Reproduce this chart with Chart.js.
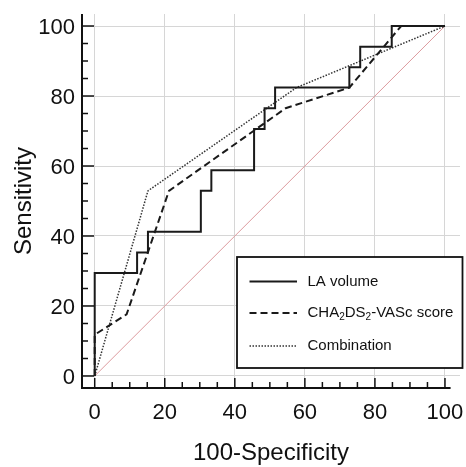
<!DOCTYPE html>
<html><head><meta charset="utf-8">
<script src="https://cdn.jsdelivr.net/npm/chart.js@4.4.1/dist/chart.umd.min.js"></script>
<style>html,body{margin:0;padding:0;background:#fff}#wrap{width:466px;height:467px;position:relative}</style>
</head><body><div id="wrap"><canvas id="c"></canvas></div>
<script>
// ---- data ----
const seriesNames = ['LA volume', 'CHA2DS2-VASc score', 'Combination'];
const legendMarkup = ['LA volume', 'CHA_2DS_2-VASc score', 'Combination'];
const laFpr  = [0, 0, 12.1, 12.1, 15.2, 15.2, 30.3, 30.3, 33.3, 33.3, 45.5, 45.5, 48.5, 48.5, 51.5, 51.5, 72.7, 72.7, 75.8, 75.8, 84.8, 84.8, 100];
const laSens = [0, 29.4, 29.4, 35.3, 35.3, 41.2, 41.2, 52.9, 52.9, 58.8, 58.8, 70.6, 70.6, 76.5, 76.5, 82.4, 82.4, 88.2, 88.2, 94.1, 94.1, 100, 100];
const chaFpr  = [0, 0, 9.1, 21.2, 54.5, 72.7, 87.5, 100];
const chaSens = [0, 11.8, 17.6, 52.9, 76.5, 82.4, 100, 100];
const combFpr  = [0, 15.2, 57.6, 100];
const combSens = [0, 52.9, 82.4, 100];
const refFpr  = [0, 100];
const refSens = [0, 100];
const xTickLabels = [0, 20, 40, 60, 80, 100];
const yTickLabels = [0, 20, 40, 60, 80, 100];
const xTitle = '100-Specificity';
const yTitle = 'Sensitivity';

const zip = (xs, ys) => xs.map((v, i) => ({x: v, y: ys[i]}));
const FONT = "'Liberation Sans', Arial, Helvetica, sans-serif";

const axesPlugin = {
  id: 'axesTicks',
  afterDatasetsDraw(chart) {
    const {ctx, chartArea: a, scales: {x, y}} = chart;
    ctx.save();
    ctx.strokeStyle = '#111';
    ctx.lineWidth = 2;
    ctx.beginPath(); ctx.moveTo(a.left, a.top); ctx.lineTo(a.left, a.bottom + 1); ctx.stroke();
    ctx.beginPath(); ctx.moveTo(a.left - 1, a.bottom); ctx.lineTo(x.getPixelForValue(101.6), a.bottom); ctx.stroke();
    ctx.lineWidth = 1.5;
    x.ticks.forEach(t => {
      if (t.value < 0 || t.value > 100) return;
      const p = x.getPixelForValue(t.value);
      const len = t.value % 20 === 0 ? 10 : 6;
      ctx.beginPath(); ctx.moveTo(p, a.bottom); ctx.lineTo(p, a.bottom - len); ctx.stroke();
    });
    y.ticks.forEach(t => {
      if (t.value < 0 || t.value > 100) return;
      const p = y.getPixelForValue(t.value);
      const len = t.value % 20 === 0 ? 12 : 6;
      ctx.beginPath(); ctx.moveTo(a.left, p); ctx.lineTo(a.left + len, p); ctx.stroke();
    });
    ctx.restore();
  }
};

function drawMarkup(ctx, text, x, y, size) {
  let i = 0, cx = x;
  while (i < text.length) {
    if (text[i] === '_' && i + 1 < text.length) {
      ctx.font = `${Math.round(size * 0.68)}px ${FONT}`;
      ctx.fillText(text[i + 1], cx, y + size * 0.3);
      cx += ctx.measureText(text[i + 1]).width;
      i += 2;
    } else {
      let j = i;
      while (j < text.length && text[j] !== '_') j++;
      const seg = text.slice(i, j);
      ctx.font = `${size}px ${FONT}`;
      ctx.fillText(seg, cx, y);
      cx += ctx.measureText(seg).width;
      i = j;
    }
  }
}

const legendPlugin = {
  id: 'boxLegend',
  afterDraw(chart) {
    const {ctx, chartArea: a} = chart;
    const left = a.left + 155, top = a.top + 243, right = a.left + 380.5, bottom = a.top + 354;
    ctx.save();
    ctx.fillStyle = '#fff';
    ctx.fillRect(left, top, right - left, bottom - top);
    ctx.strokeStyle = '#111';
    ctx.lineWidth = 1.8;
    ctx.strokeRect(left, top, right - left, bottom - top);
    const rows = [top + 24.5, top + 56, top + 89];
    chart.data.datasets.forEach((ds, i) => {
      if (i >= legendMarkup.length) return;
      const yy = rows[i];
      ctx.strokeStyle = ds.borderColor;
      ctx.lineWidth = ds.borderWidth;
      ctx.setLineDash(ds.borderDash || []);
      ctx.beginPath(); ctx.moveTo(left + 12.5, yy); ctx.lineTo(left + 60, yy); ctx.stroke();
      ctx.setLineDash([]);
      ctx.fillStyle = '#111';
      ctx.textBaseline = 'middle';
      ctx.textAlign = 'left';
      drawMarkup(ctx, legendMarkup[i], left + 70.5, yy, 15);
    });
    ctx.restore();
  }
};

const gridColor = (labels) => (c) => (c.tick && labels.includes(c.tick.value)) ? '#d6d6d6' : 'rgba(0,0,0,0)';

new Chart(document.getElementById('c'), {
  type: 'scatter',
  data: {
    datasets: [
      {label: seriesNames[0], data: zip(laFpr, laSens), showLine: true, borderColor: '#1a1a1a', borderWidth: 2, borderDash: [], pointRadius: 0, tension: 0},
      {label: seriesNames[1], data: zip(chaFpr, chaSens), showLine: true, borderColor: '#1a1a1a', borderWidth: 2, borderDash: [7, 4], pointRadius: 0, tension: 0},
      {label: seriesNames[2], data: zip(combFpr, combSens), showLine: true, borderColor: '#333', borderWidth: 1.5, borderDash: [1.5, 1.5], pointRadius: 0, tension: 0},
      {label: 'Reference', data: zip(refFpr, refSens), showLine: true, borderColor: '#dc9a9e', borderWidth: 1, pointRadius: 0, tension: 0}
    ]
  },
  options: {
    responsive: true, maintainAspectRatio: false, animation: false,
    layout: {padding: {top: 14, right: 6, left: 0, bottom: 0}},
    plugins: {legend: {display: false}, tooltip: {enabled: false}},
    scales: {
      x: {
        type: 'linear', min: -3.63, max: 104.29,
        border: {display: false},
        grid: {drawTicks: false, color: gridColor(xTickLabels), lineWidth: 1},
        ticks: {stepSize: 5, includeBounds: false, autoSkip: false, maxTicksLimit: 100, maxRotation: 0, padding: 12,
          color: '#111', font: {family: FONT, size: 22},
          callback: v => xTickLabels.includes(v) ? String(v) : ''},
        title: {display: true, text: xTitle, color: '#111', font: {family: FONT, size: 24}, padding: {top: 0, bottom: -1}},
        afterFit: s => { s.height = 79; s.paddingLeft = 0; s.paddingRight = 0; }
      },
      y: {
        type: 'linear', min: -3.43, max: 103.43,
        border: {display: false},
        grid: {drawTicks: false, color: gridColor(yTickLabels), lineWidth: 1},
        ticks: {stepSize: 5, includeBounds: false, autoSkip: false, maxTicksLimit: 100, padding: 7, labelOffset: 2,
          color: '#111', font: {family: FONT, size: 22},
          callback: v => yTickLabels.includes(v) ? String(v) : ''},
        title: {display: true, text: yTitle, color: '#111', font: {family: FONT, size: 24}, padding: {top: 10, bottom: 0}},
        afterFit: s => { s.width = 82; s.paddingTop = 0; s.paddingBottom = 0; }
      }
    }
  },
  plugins: [axesPlugin, legendPlugin]
});
</script></body></html>
